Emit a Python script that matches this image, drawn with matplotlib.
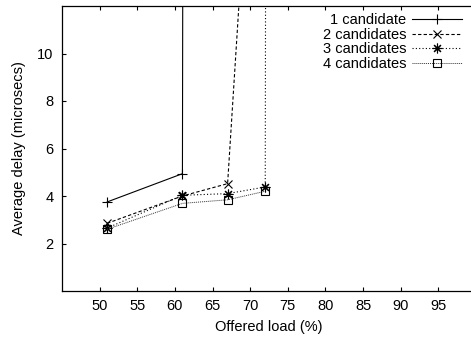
import matplotlib
matplotlib.use('Agg')
import matplotlib.pyplot as plt

# offered load (%) and average delay (microsecs); last points lie far above the plot
load_1 = [51, 61, 62]
delay_1 = [3.75, 4.94, 200]
load_2 = [51, 61, 67, 72]
delay_2 = [2.85, 4.0, 4.52, 29.5]
load_3 = [51, 61, 67, 72, 73]
delay_3 = [2.65, 4.03, 4.1, 4.38, 200]
load_4 = [51, 61, 67, 72]
delay_4 = [2.6, 3.69, 3.84, 4.2]

labels = ['1 candidate', '2 candidates', '3 candidates', '4 candidates']
xticks = [50, 55, 60, 65, 70, 75, 80, 85, 90, 95]
yticks = [2, 4, 6, 8, 10]

plt.rcParams['font.family'] = ['Liberation Sans', 'DejaVu Sans']
plt.rcParams['font.size'] = 10.5

fig = plt.figure(figsize=(4.71, 3.44), dpi=100)
ax = fig.add_axes([62 / 471, 53 / 344, 414 / 471, 285 / 344])

ax.plot(load_1, delay_1, color='black', lw=0.8, linestyle='-',
        marker='+', ms=7, mew=0.8, label=labels[0])
ax.plot(load_2, delay_2, color='black', lw=0.8, linestyle=(0, (3, 2)),
        marker='x', ms=6, mew=0.8, label=labels[1])
ax.plot(load_3, delay_3, color='black', lw=0.8, linestyle=(0, (1, 2)),
        marker=(8, 2, 0), ms=7, mew=0.8, label=labels[2])
ax.plot(load_4, delay_4, color='#333333', lw=0.7, linestyle=(0, (1, 1)),
        marker='s', ms=5.5, mew=0.8, mfc='none', mec='black', label=labels[3])

ax.set_xlim(45, 100)
ax.set_ylim(0, 12)
ax.set_xticks(xticks)
ax.set_yticks(yticks)
ax.tick_params(direction='in', length=3, width=0.8, top=True, right=True)
ax.tick_params(axis='x', pad=6)
ax.tick_params(axis='y', pad=6)
for s in ax.spines.values():
    s.set_linewidth(0.9)

ax.set_xlabel('Offered load (%)', labelpad=5)
ax.set_ylabel('Average delay (microsecs)', labelpad=8)

leg = ax.legend(loc='upper right', bbox_to_anchor=(462 / 471, 1 - 13 / 344),
                bbox_transform=fig.transFigure, frameon=False, markerfirst=False,
                borderaxespad=0, borderpad=0, handlelength=3.4,
                handletextpad=0.4, labelspacing=0.05)
for t in leg.get_texts():
    t.set_ha('right')

plt.savefig('out.png', dpi=100)
